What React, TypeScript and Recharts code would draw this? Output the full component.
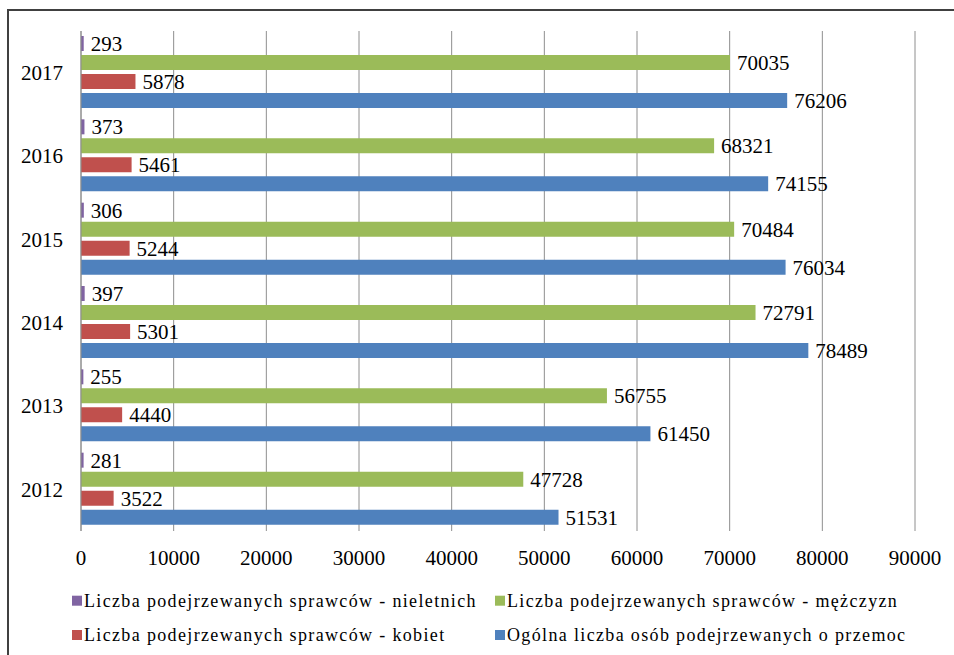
import React from 'react';
import {
  BarChart,
  Bar,
  XAxis,
  YAxis,
  CartesianGrid,
  LabelList
} from 'recharts';

// years from top to bottom, as in the picture
const years = ['2017', '2016', '2015', '2014', '2013', '2012'];
const minors = [293, 373, 306, 397, 255, 281];
const men = [70035, 68321, 70484, 72791, 56755, 47728];
const women = [5878, 5461, 5244, 5301, 4440, 3522];
const total = [76206, 74155, 76034, 78489, 61450, 51531];
const xTicks = [0, 10000, 20000, 30000, 40000, 50000, 60000, 70000, 80000, 90000];

const seriesNames = {
  minors: 'Liczba podejrzewanych sprawców - nieletnich',
  men: 'Liczba podejrzewanych sprawców - mężczyzn',
  women: 'Liczba podejrzewanych sprawców - kobiet',
  total: 'Ogólna liczba osób podejrzewanych o przemoc',
};

const colors = {
  minors: '#8064A2',
  men: '#9BBB59',
  women: '#C0504D',
  total: '#4F81BD',
};

const chartData = years.map((year, i) => ({
  year,
  minors: minors[i],
  men: men[i],
  women: women[i],
  total: total[i],
}));

// legend is laid out in two columns, two rows
const legendRows: (keyof typeof seriesNames)[][] = [
  ['minors', 'men'],
  ['women', 'total'],
];

const FONT = '"Liberation Serif", "Times New Roman", serif';

const Legend2x2 = () => (
  <svg
    width={954}
    height={80}
    style={{ position: 'absolute', left: 0, top: 580 }}
  >
    {legendRows.map((row, r) =>
      row.map((key, c) => {
        const x = c === 0 ? 72 : 495;
        const baseline = r === 0 ? 26.7 : 61;
        return (
          <g key={key}>
            <rect x={x} y={baseline - 11} width={10} height={10} fill={colors[key]} />
            <text
              x={x + 12}
              y={baseline}
              fontFamily={FONT}
              fontSize={18}
              letterSpacing={1.35}
              fill="#000"
            >
              {seriesNames[key]}
            </text>
          </g>
        );
      })
    )}
  </svg>
);

const tickStyle = { fontFamily: FONT, fontSize: 21, fill: '#000' };

export default function App() {
  const keys = ['minors', 'men', 'women', 'total'] as const;
  return (
    <div
      style={{
        position: 'fixed',
        left: 0,
        top: 0,
        width: 954,
        height: 655,
        overflow: 'hidden',
        background: '#fff',
      }}
    >
      <div
        style={{
          position: 'absolute',
          left: 7,
          top: 9,
          width: 980,
          height: 700,
          borderTop: '2px solid #404040',
          borderLeft: '2px solid #404040',
        }}
      />
      <div style={{ position: 'absolute', left: 0, top: 0 }}>
        <BarChart
          width={954}
          height={571}
          data={chartData}
          layout="vertical"
          margin={{ top: 31, right: 39, bottom: 0, left: 21 }}
          barCategoryGap={5}
          barGap={4}
        >
          <CartesianGrid horizontal={false} stroke="#8e8e8e" />
          <XAxis
            type="number"
            domain={[0, 90000]}
            ticks={xTicks}
            tickLine={false}
            axisLine={false}
            tickMargin={13}
            height={40}
            tick={tickStyle}
            interval={0}
          />
          <YAxis
            type="category"
            dataKey="year"
            width={60}
            tickLine={false}
            axisLine={{ stroke: '#8e8e8e' }}
            tickMargin={12}
            tick={tickStyle}
          />
          {keys.map((key) => (
            <Bar
              key={key}
              dataKey={key}
              name={seriesNames[key]}
              fill={colors[key]}
              isAnimationActive={false}
            >
              <LabelList
                dataKey={key}
                position="right"
                offset={7}
                style={{ fontFamily: FONT, fontSize: 21, fill: '#000' }}
              />
            </Bar>
          ))}
        </BarChart>
      </div>
      <Legend2x2 />
    </div>
  );
}
